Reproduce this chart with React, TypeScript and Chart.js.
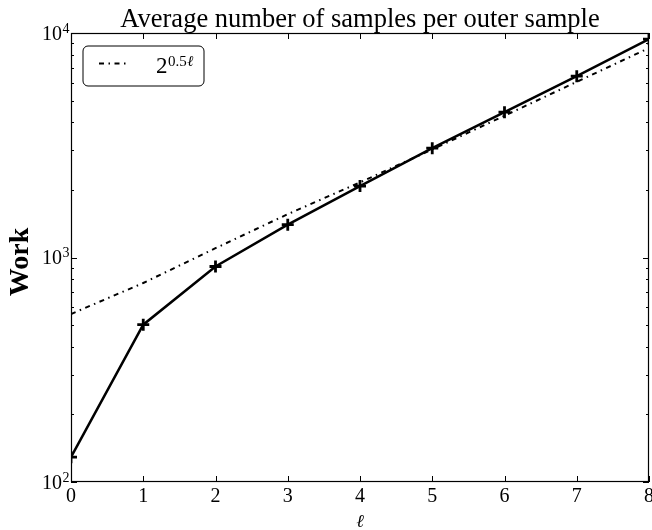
import React, { useEffect, useRef } from 'react';
import { Chart, registerables } from 'chart.js';
Chart.register(...registerables);

const levels = [0, 1, 2, 3, 4, 5, 6, 7, 8];
const work = [129, 502, 912, 1400, 2080, 3070, 4440, 6425, 9400];
const reference = [560, 770, 1100, 1560, 2160, 3030, 4280, 6060, 8570];
const xTickValues = [0, 1, 2, 3, 4, 5, 6, 7, 8];
const yMajorValues = [100, 1000, 10000];
const yMajorExponents = ['2', '3', '4'];
const yMinorValues = [200, 300, 400, 500, 600, 700, 800, 900, 2000, 3000, 4000, 5000, 6000, 7000, 8000, 9000];
const titleText = 'Average number of samples per outer sample';
const yTitle = 'Work';
const xTitle = 'ℓ';
const legendBase = '2';
const legendExpNum = '0.5';
const legendExpVar = 'ℓ';

const SERIF = '"Liberation Serif", "DejaVu Serif", serif';
const DASHDOT = [5, 4.5, 1.5, 4.5];

const decor = {
  id: 'decor',
  afterDraw(chart: any) {
    const { ctx, chartArea: a, scales } = chart;
    const xs = scales.x;
    const ys = scales.y;
    ctx.save();
    ctx.strokeStyle = '#000';
    ctx.fillStyle = '#000';
    ctx.lineWidth = 1;
    const line = (x1: number, y1: number, x2: number, y2: number) => {
      ctx.beginPath();
      ctx.moveTo(x1, y1);
      ctx.lineTo(x2, y2);
      ctx.stroke();
    };
    // frame
    ctx.lineWidth = 1.2;
    ctx.strokeRect(a.left + 0.5, a.top + 0.5, a.right - a.left - 1, a.bottom - a.top - 1);
    ctx.lineWidth = 1;
    // x ticks
    for (const v of xTickValues) {
      const px = Math.round(xs.getPixelForValue(v)) + 0.5;
      line(px, a.bottom, px, a.bottom - 6);
      line(px, a.top, px, a.top + 6);
    }
    // y ticks
    for (const v of yMajorValues) {
      const py = Math.round(ys.getPixelForValue(v)) + 0.5;
      line(a.left, py, a.left + 6, py);
      line(a.right, py, a.right - 6, py);
    }
    for (const v of yMinorValues) {
      const py = Math.round(ys.getPixelForValue(v)) + 0.5;
      line(a.left, py, a.left + 3, py);
      line(a.right, py, a.right - 3, py);
    }
    // x tick labels
    ctx.font = `20px ${SERIF}`;
    ctx.textAlign = 'center';
    ctx.textBaseline = 'alphabetic';
    for (const v of xTickValues) {
      ctx.fillText(String(v), xs.getPixelForValue(v), a.bottom + 20);
    }
    // y tick labels
    yMajorValues.forEach((v, i) => {
      const py = ys.getPixelForValue(v);
      ctx.font = `20px ${SERIF}`;
      ctx.textAlign = 'right';
      ctx.fillText('10', a.left - 9, py + 6.6);
      ctx.font = `14px ${SERIF}`;
      ctx.textAlign = 'left';
      ctx.fillText(yMajorExponents[i], a.left - 8.5, py - 0.5);
    });
    // title
    ctx.font = `26.5px ${SERIF}`;
    ctx.textAlign = 'center';
    ctx.fillText(titleText, (a.left + a.right) / 2, 27);
    // y title
    ctx.save();
    ctx.translate(28, 262);
    ctx.rotate(-Math.PI / 2);
    ctx.font = `bold 28px ${SERIF}`;
    ctx.textAlign = 'center';
    ctx.fillText(yTitle, 0, 0);
    ctx.restore();
    // x title
    ctx.font = `italic 18px "DejaVu Serif", serif`;
    ctx.textAlign = 'center';
    ctx.fillText(xTitle, (a.left + a.right) / 2, 527);
    // legend
    const bx = 83, by = 46, bw = 121, bh = 40, r = 5;
    ctx.beginPath();
    ctx.moveTo(bx + r, by);
    ctx.arcTo(bx + bw, by, bx + bw, by + bh, r);
    ctx.arcTo(bx + bw, by + bh, bx, by + bh, r);
    ctx.arcTo(bx, by + bh, bx, by, r);
    ctx.arcTo(bx, by, bx + bw, by, r);
    ctx.closePath();
    ctx.fillStyle = '#fff';
    ctx.fill();
    ctx.strokeStyle = '#000';
    ctx.lineWidth = 1;
    ctx.stroke();
    ctx.save();
    ctx.setLineDash(DASHDOT);
    ctx.lineWidth = 2;
    line(99, 63.5, 129, 63.5);
    ctx.restore();
    ctx.fillStyle = '#000';
    ctx.textAlign = 'left';
    ctx.font = `23px ${SERIF}`;
    ctx.fillText(legendBase, 156, 73);
    let cx = 156 + ctx.measureText(legendBase).width + 0.5;
    ctx.font = `15px ${SERIF}`;
    ctx.fillText(legendExpNum, cx, 66);
    cx += ctx.measureText(legendExpNum).width + 0.5;
    ctx.font = `italic 15px "DejaVu Serif", serif`;
    ctx.fillText(legendExpVar, cx, 66);
    ctx.restore();
  },
};

export default function App() {
  const ref = useRef<HTMLCanvasElement>(null);
  useEffect(() => {
    if (!ref.current) return;
    const chart = new Chart(ref.current, {
      type: 'line',
      data: {
        datasets: [
          {
            label: 'Work',
            data: levels.map((l, i) => ({ x: l, y: work[i] })),
            borderColor: '#000',
            backgroundColor: '#000',
            borderWidth: 2.5,
            pointStyle: 'cross',
            pointRadius: 6,
            pointBorderWidth: 2.8,
            pointBorderColor: '#000',
            pointBackgroundColor: '#000',
            tension: 0,
            fill: false,
          },
          {
            label: '2^{0.5ℓ}',
            data: levels.map((l, i) => ({ x: l, y: reference[i] })),
            borderColor: '#000',
            borderWidth: 2,
            borderDash: DASHDOT,
            pointRadius: 0,
            tension: 0,
            fill: false,
          },
        ],
      },
      options: {
        animation: false,
        responsive: false,
        devicePixelRatio: 1,
        layout: { autoPadding: false, padding: { left: 71, right: 3, top: 33, bottom: 48 } },
        plugins: {
          legend: { display: false },
          tooltip: { enabled: false },
          title: { display: false },
        },
        scales: {
          x: {
            type: 'linear',
            min: 0,
            max: 8,
            grid: { display: false, drawTicks: false },
            border: { display: false },
            ticks: { display: false },
          },
          y: {
            type: 'logarithmic',
            min: 100,
            max: 10000,
            grid: { display: false, drawTicks: false },
            border: { display: false },
            ticks: { display: false },
          },
        },
      },
      plugins: [decor],
    });
    return () => chart.destroy();
  }, []);
  return (
    <div style={{ position: 'absolute', left: 0, top: 0, width: 652, height: 530, background: '#fff' }}>
      <canvas ref={ref} width={652} height={530} />
    </div>
  );
}
